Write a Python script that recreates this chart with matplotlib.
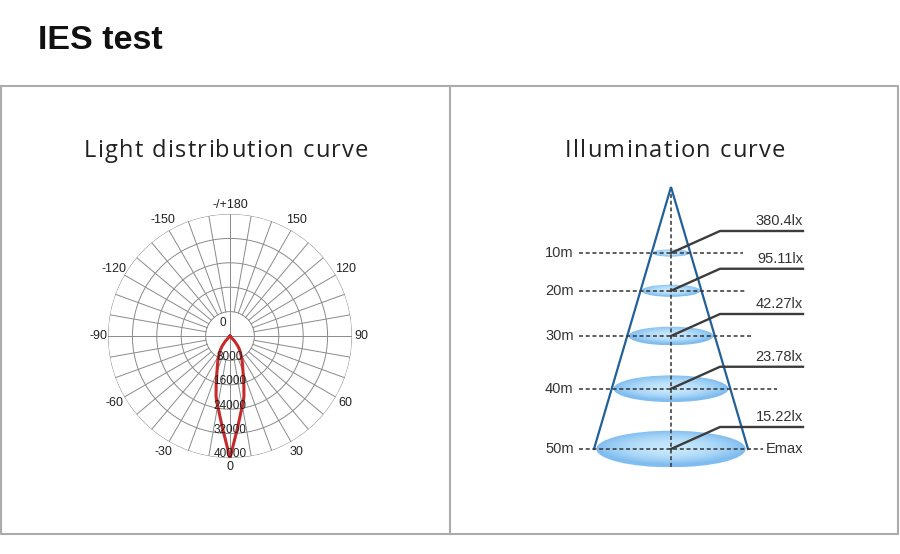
import numpy as np
import matplotlib.pyplot as plt
from matplotlib.patches import Ellipse
from matplotlib.textpath import TextToPath
from matplotlib.font_manager import FontProperties

# light distribution (half beam, mirrored for negative angles)
beam_angles = [0, 0.5, 1.3, 2.5, 4.3, 6.3, 8.8, 11, 13.1, 15.5, 18.5, 20.8, 22.8,
               26.6, 29.5, 34.7, 38, 42, 44]
beam_cd = [40000, 38700, 36700, 34100, 30900, 27700, 24500, 22400, 20200, 17000,
           13800, 11900, 10700, 8800, 7500, 5600, 4200, 2200, 0]
ring_values = [8000, 16000, 24000, 32000, 40000]
angle_ticks = [0, 30, 60, 90, 120, 150, 180, -150, -120, -90, -60, -30]
angle_labels = ['0', '30', '60', '90', '120', '150', '-/+180', '-150', '-120', '-90', '-60', '-30']

# illumination at distance
distances = [10, 20, 30, 40, 50]
lux_values = [380.4, 95.11, 42.27, 23.78, 15.22]

# drawing layout for the cone (pixels)
apex_x, apex_y = 671, 187
cone_slope = 77 / 262
dash_end = [743, 745, 753, 777, 763]


def depth(d):
    # perspective spacing of the distance levels below the apex
    return 35.75 + 2.65 * d + 0.0375 * d ** 2


def spaced_title(ax, xc, y, s, size, spacing):
    # letter-spaced title, drawn char by char
    fp = FontProperties(family='Open Sans', size=size)
    ttp = TextToPath()
    wid = lambda txt: ttp.get_text_width_height_descent(txt, fp, ismath=False)[0] * 100 / 72
    pos = [wid(s[:i + 1]) - wid(s[i]) + i * spacing for i in range(len(s))]
    total = pos[-1] + wid(s[-1])
    for ch, p in zip(s, pos):
        if ch != ' ':
            ax.text(xc - total / 2 + p, y, ch, fontproperties=fp, color='#222222',
                    ha='left', va='baseline')


fig = plt.figure(figsize=(9, 5.54), dpi=100)
ax = fig.add_axes([0, 0, 1, 1])
ax.set_xlim(0, 900)
ax.set_ylim(554, 0)
ax.axis('off')

# frame and divider
ax.plot([1, 898, 898, 1, 1], [86, 86, 534, 534, 86], color='#ababab', lw=1.5)
ax.plot([450, 450], [86, 534], color='#ababab', lw=1.5)

ax.text(38, 49, 'IES test', fontsize=24.5, fontweight='bold', family='Liberation Sans',
        color='#111111', va='baseline')
spaced_title(ax, 226, 157, 'Light distribution curve', 17, 1.3)
spaced_title(ax, 675, 157, 'Illumination curve', 17, 1.3)

# ---- illumination cone ----
base_y = apex_y + depth(distances[-1])
base_half = cone_slope * depth(distances[-1])
ax.plot([apex_x - base_half, apex_x, apex_x + base_half], [base_y, apex_y, base_y],
        color='#22609a', lw=1.6, zorder=1, solid_joinstyle='miter')

c_center = np.array([0.78, 0.91, 0.99])
c_edge = np.array([0.50, 0.74, 0.94])
uu, vv = np.meshgrid(np.linspace(-1, 1, 120), np.linspace(-1, 1, 60))
rr = np.sqrt(uu ** 2 + vv ** 2)
t = np.clip(rr ** 2 + 0.35 * np.clip(vv, 0, 1) * rr, 0, 1)
grad = c_center * (1 - t[..., None]) + c_edge * t[..., None]

dash = (0, (2.6, 1.8))
for i, d in enumerate(distances):
    y = apex_y + depth(d)
    a = cone_slope * depth(d) * 0.97
    b = a * (0.18 + 0.0013 * d)
    e = Ellipse((apex_x, y), 2 * a, 2 * b, facecolor='none', edgecolor='none')
    ax.add_patch(e)
    im = ax.imshow(grad, extent=[apex_x - a, apex_x + a, y + b, y - b], aspect='auto',
                   zorder=2, interpolation='bilinear')
    im.set_clip_path(e)

    ax.text(545, y, f'{d}m', ha='left', va='center', fontsize=10.5,
            family='Liberation Sans', color='#333333')
    ax.plot([579, dash_end[i]], [y, y], color='#333333', lw=1.1, linestyle=dash, zorder=3)

    ly = y - 22
    ax.plot([apex_x, 720, 803], [y, ly, ly], color='#3c3c3c', lw=1.7, zorder=4)
    ax.text(803, ly - 3, f'{lux_values[i]}lx', ha='right', va='bottom', fontsize=10.5,
            family='Liberation Sans', color='#333333')

ax.text(766, base_y, 'Emax', ha='left', va='center', fontsize=10.5,
        family='Liberation Sans', color='#333333')
ax.plot([apex_x, apex_x], [194, 468], color='#333333', lw=1.1, linestyle=dash, zorder=3)
ax.set_xlim(0, 900)
ax.set_ylim(554, 0)

# ---- polar light distribution ----
R = 122
pax = fig.add_axes([(230 - R) / 900, (554 - 336 - R) / 554, 2 * R / 900, 2 * R / 554],
                   projection='polar')
pax.set_theta_zero_location('S')
pax.set_theta_direction(1)
pax.set_ylim(0, ring_values[-1])
pax.grid(False)
pax.set_xticks([])
pax.set_yticks([])
pax.spines['polar'].set_visible(False)
pax.patch.set_alpha(0)

grid_kw = dict(color='#8a8a8a', lw=0.7, zorder=1)
full = np.linspace(0, 2 * np.pi, 361)
for v in ring_values:
    pax.plot(full, np.full_like(full, v), **grid_kw)
for a in range(0, 360, 10):
    r0 = 0 if a % 90 == 0 else ring_values[0]
    pax.plot([np.radians(a)] * 2, [r0, ring_values[-1]], **grid_kw)

th = np.radians(beam_angles)
cd = np.array(beam_cd)
full_th = np.concatenate([-th[::-1], th[1:]])
full_cd = np.concatenate([cd[::-1], cd[1:]])
pax.plot(full_th, full_cd, color='#c62a2a', lw=2.2, zorder=2, solid_joinstyle='round')

for v in ring_values:
    pax.text(0, v - 1200, str(v), ha='center', va='center', fontsize=8.5,
             family='Liberation Sans', color='#222222', zorder=3)
pax.text(0.5 - 7 / 244, 0.5 + 13 / 244, '0', transform=pax.transAxes, ha='center',
         va='center', fontsize=8.5, family='Liberation Sans', color='#222222')
for tk, lab in zip(angle_ticks, angle_labels):
    rr_lab = 43000 if tk % 90 == 0 else 43800
    pax.text(np.radians(tk), rr_lab, lab, ha='center', va='center', fontsize=9,
             family='Liberation Sans', color='#222222')

fig.savefig('out.png', dpi=100, facecolor='white')
